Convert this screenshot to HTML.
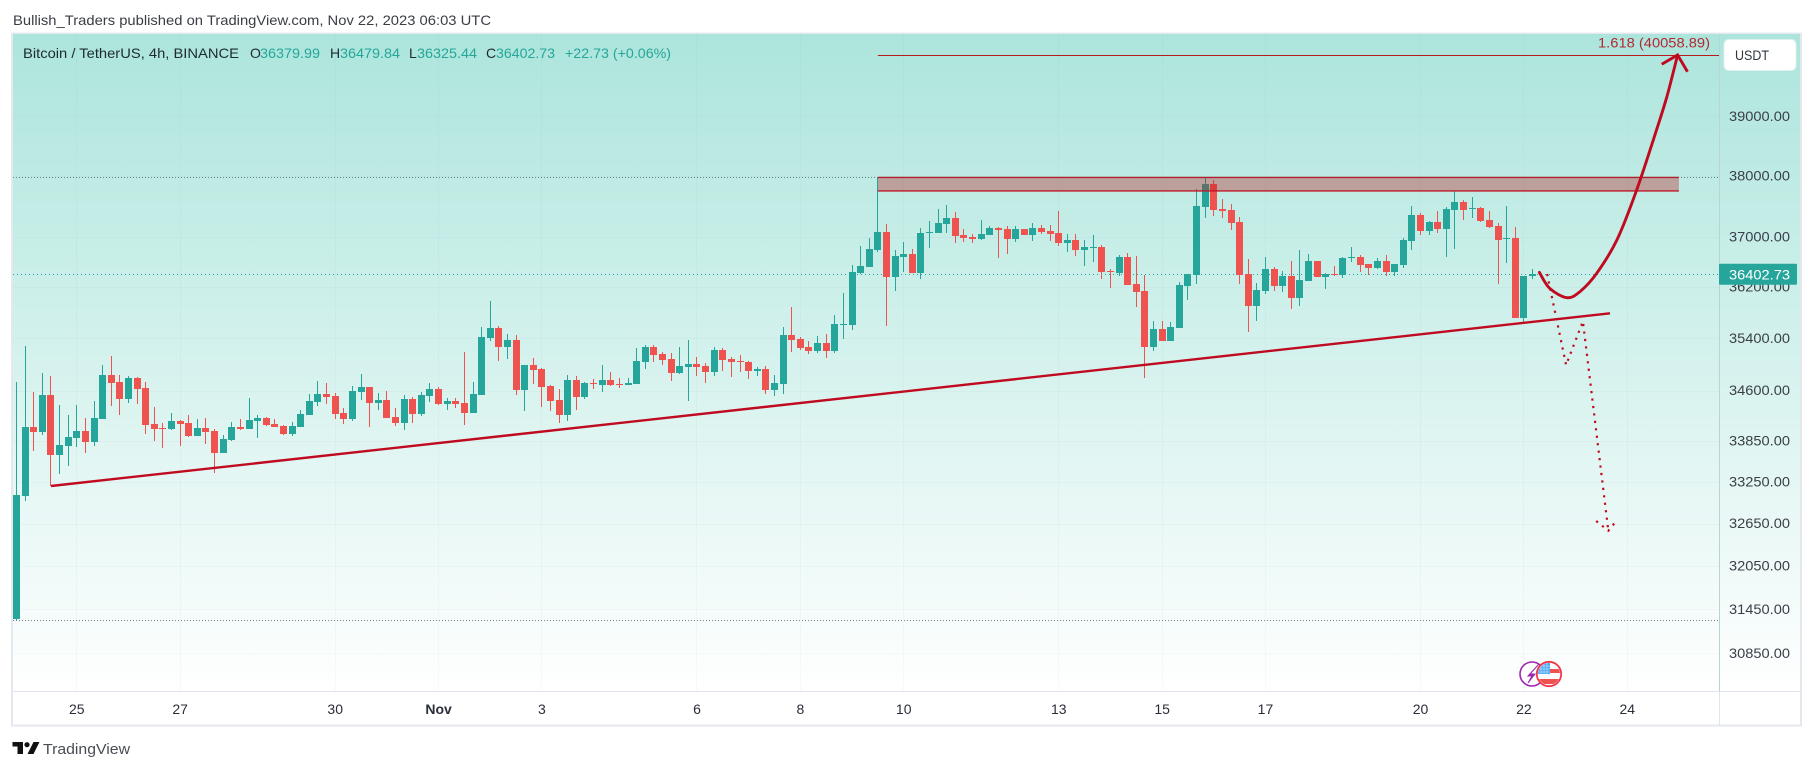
<!DOCTYPE html>
<html lang="en">
<head>
<meta charset="utf-8">
<title>BTC/USDT 4h chart</title>
<style>
  html,body{margin:0;padding:0;background:#fff;width:1814px;height:770px;overflow:hidden}
  svg{display:block;font-family:"Liberation Sans",sans-serif}
</style>
</head>
<body>
<svg id="chart" width="1814" height="770" viewBox="0 0 1814 770" xmlns="http://www.w3.org/2000/svg">
  <defs>
    <linearGradient id="paneGrad" x1="0" y1="0" x2="0" y2="1">
      <stop offset="0" stop-color="#ace5dc"/>
      <stop offset="1" stop-color="#ffffff"/>
    </linearGradient>
    <clipPath id="paneClip"><rect x="13" y="34" width="1706" height="657"/></clipPath>
    <clipPath id="flagClip"><circle cx="1549" cy="674" r="11"/></clipPath>
  </defs>

  <text x="13" y="25" font-size="14" fill="#3a3d45" textLength="478" lengthAdjust="spacingAndGlyphs">Bullish_Traders published on TradingView.com, Nov 22, 2023 06:03 UTC</text>

  <rect x="12" y="33.5" width="1789" height="692" fill="#ffffff" stroke="#e6e8ef" stroke-width="2"/>
  <rect x="13" y="34" width="1787" height="657" fill="url(#paneGrad)"/>

  <g id="grid"></g>
  <g id="refLines" clip-path="url(#paneClip)"></g>
  <g id="candles" clip-path="url(#paneClip)" shape-rendering="crispEdges"></g>
  <g id="drawings"></g>

  <line x1="1719.5" y1="34" x2="1719.5" y2="726" stroke="#b9d4d1" stroke-width="1"/>
  <line x1="13" y1="691.5" x2="1800" y2="691.5" stroke="#e0e3eb" stroke-width="1"/>
  <line x1="1719.5" y1="692" x2="1719.5" y2="726" stroke="#e0e3eb" stroke-width="1"/>

  <g id="priceAxis"></g>
  <g id="timeAxis"></g>

  <g id="lastPrice"></g>

  <g font-size="14">
    <text x="23" y="58" fill="#1f2a30" textLength="216" lengthAdjust="spacingAndGlyphs">Bitcoin / TetherUS, 4h, BINANCE</text>
    <text x="250" y="58" fill="#1f2a30">O</text>
    <text x="260" y="58" fill="#26a69a" textLength="60" lengthAdjust="spacingAndGlyphs">36379.99</text>
    <text x="330" y="58" fill="#1f2a30">H</text>
    <text x="340" y="58" fill="#26a69a" textLength="60" lengthAdjust="spacingAndGlyphs">36479.84</text>
    <text x="409" y="58" fill="#1f2a30">L</text>
    <text x="417" y="58" fill="#26a69a" textLength="60" lengthAdjust="spacingAndGlyphs">36325.44</text>
    <text x="486" y="58" fill="#1f2a30">C</text>
    <text x="496" y="58" fill="#26a69a" textLength="59" lengthAdjust="spacingAndGlyphs">36402.73</text>
    <text x="565" y="58" fill="#26a69a" textLength="106" lengthAdjust="spacingAndGlyphs">+22.73 (+0.06%)</text>
  </g>

  <g>
    <rect x="1724" y="39.5" width="72" height="31" rx="5" fill="#ffffff" stroke="#e3f1ee"/>
    <text x="1735" y="60" font-size="14" fill="#2f3640" textLength="34" lengthAdjust="spacingAndGlyphs">USDT</text>
  </g>

  <g>
    <circle cx="1532" cy="674" r="12" fill="#ffffff" stroke="#9c27b0" stroke-width="1.6"/>
    <path d="M1539 664 L1530 674 L1535 674 L1528 683 L1532 676 L1528 676 Z" fill="#9c27b0" stroke="#9c27b0" stroke-width="1"/>
    <circle cx="1549" cy="674" r="12.2" fill="#ffffff" stroke="#f23645" stroke-width="1.8"/>
    <g clip-path="url(#flagClip)">
      <rect x="1538" y="669" width="23" height="4" fill="#ef5350"/>
      <rect x="1538" y="679" width="23" height="5" fill="#ef5350"/>
      <rect x="1538" y="663" width="12" height="11" fill="#42a5f5"/>
      <path d="M1541 663V674M1544 663V674M1547 663V674M1538 666H1550M1538 669H1550M1538 672H1550" stroke="#bbdefb" stroke-width=".7"/>
    </g>
  </g>

  <g>
    <path d="M12.5 742H23V754H17.5V746.5H12.5Z" fill="#111"/>
    <circle cx="27" cy="744.7" r="2.6" fill="#111"/>
    <path d="M33.5 742H39.5L33.5 754H27.5Z" fill="#111"/>
    <text x="43" y="754" font-size="15" fill="#4a4d55" textLength="87" lengthAdjust="spacingAndGlyphs">TradingView</text>
  </g>
</svg>

<script>
/* ---------- data: 4h OHLC, one entry per bar ---------- */
const opens = [31318,33045,34056,33981,34535,33641,33774,33893,33996,33833,
34175,34837,34731,34474,34791,34640,34100,34041,34026,34145,
34115,33922,34041,33996,33671,33863,34056,34026,34145,34190,
34100,34071,33952,34056,34235,34429,34550,34519,34264,34175,
34580,34655,34414,34459,34205,34115,34474,34250,34519,34625,
34399,34444,34414,34264,34535,35405,35559,35266,35374,34610,
34990,34928,34670,34459,34235,34761,34504,34716,34686,34761,
34701,34686,34701,35036,35266,35158,35081,34867,34959,35005,
34974,34883,35220,35081,35051,35036,34898,34928,34610,34701,
35451,35389,35266,35205,35328,35205,35606,35606,36423,36519,
36791,37082,36360,36679,36727,36423,37065,37065,37211,37309,
37033,37001,36968,37033,37146,37130,36968,37130,37033,37146,
37098,37065,36904,36952,36791,36823,36839,36455,36423,36679,
36249,36138,35266,35544,35359,35559,36217,36391,37488,37867,
37455,37439,37244,36407,35903,36138,36487,36217,36375,36028,
36296,36615,36359,36407,36391,36663,36679,36567,36503,36615,
36439,36551,36936,37358,37098,37244,37130,37439,37570,37455,
37472,37276,37179,36968,36984,35715,36379.99];

const highs = [34731,35282,34580,34867,34822,34384,34235,34384,34190,34444,
34990,35128,34837,34822,34807,34731,34354,34115,34264,34160,
34235,34175,34190,34026,33937,34130,34175,34489,34235,34205,
34175,34086,34130,34309,34550,34746,34716,34565,34339,34670,
34852,34655,34565,34595,34339,34535,34504,34580,34716,34655,
34489,34489,35189,34731,35575,35981,35590,35466,35451,34990,
35097,34944,34686,34625,34837,34822,34731,34776,34990,34883,
34791,34791,35251,35297,35297,35189,35174,35266,35374,35112,
35020,35266,35251,35112,35143,35051,34959,34974,34837,35575,
35887,35420,35359,35436,35466,35762,36107,36551,36855,36984,
37965,37211,36791,36920,36807,37146,37260,37455,37521,37406,
37130,37049,37276,37179,37163,37179,37179,37130,37227,37195,
37195,37423,37049,37049,36952,37033,36872,36487,36711,36743,
36695,36391,35668,35668,35653,36280,36407,37784,37965,37932,
37620,37537,37325,36647,36265,36679,36519,36455,36615,36791,
36727,36615,36423,36535,36679,36839,36711,36567,36663,36711,
36567,36984,37505,37390,37260,37423,37488,37752,37603,37653,
37488,37423,37227,37505,37163,36375,36479.84];

const lows = [31304,32977,33700,33937,33190,33364,33480,33760,33671,33774,
34175,34369,34235,34414,34399,33952,33848,33745,34011,33774,
33907,33922,33804,33379,33671,33848,34011,34026,33893,34071,
34056,33937,33922,34056,34235,34369,34399,34175,34100,34145,
34459,34056,34309,34190,34071,34011,34115,34220,34429,34384,
34309,34339,34086,34264,34535,35359,35051,35081,34535,34294,
34701,34354,34294,34115,34145,34309,34474,34625,34580,34670,
34640,34686,34701,34928,35036,34990,34746,34852,34444,34822,
34716,34822,34898,34807,34883,34776,34822,34550,34519,34550,
35189,35220,35158,35174,35097,35174,35389,35528,36407,36519,
36759,35590,36138,36439,36423,36328,36823,37065,37065,36904,
36920,36904,36952,37033,36663,36727,36920,37033,36936,37049,
36936,36855,36759,36695,36535,36599,36328,36186,36375,36233,
35887,34791,35205,35359,35359,35559,35997,36249,37309,37341,
37309,37114,36249,35497,35668,36091,36138,36122,35856,35903,
36296,36359,36170,36375,36344,36599,36439,36391,36487,36375,
36375,36503,36791,37033,37033,37065,36679,36807,37276,37309,
37244,37146,36249,36583,35715,35622,36325.44];

const closes = [33059,34056,33981,34535,33641,33789,33907,33996,33833,34190,
34837,34716,34474,34791,34625,34086,34026,34026,34145,34100,
33922,34041,33981,33671,33878,34056,34026,34160,34190,34086,
34056,33952,34071,34250,34444,34550,34504,34250,34175,34595,
34655,34414,34459,34190,34115,34474,34250,34535,34625,34399,
34444,34399,34264,34550,35420,35559,35266,35374,34610,34990,
34913,34655,34444,34235,34761,34504,34716,34701,34761,34686,
34686,34716,35051,35266,35143,35066,34867,34974,35005,34959,
34883,35220,35066,35036,35036,34898,34928,34610,34716,35451,
35374,35251,35205,35328,35205,35622,35622,36439,36535,36807,
37082,36359,36695,36727,36423,37065,37082,37227,37309,37017,
36984,36968,37049,37146,37114,36968,37130,37033,37146,37082,
37049,36904,36952,36791,36839,36839,36439,36439,36679,36233,
36122,35266,35544,35359,35575,36233,36407,37505,37867,37439,
37423,37227,36391,35903,36154,36487,36217,36375,36028,36312,
36615,36359,36407,36391,36663,36679,36551,36503,36615,36439,
36567,36952,37358,37098,37244,37130,37455,37570,37439,37472,
37260,37163,36952,36984,35715,36375,36402.73];

/* ---------- axis tick data ---------- */
const priceTicks = [39000,38000,37000,36200,35400,34600,33850,33250,32650,32050,31450,30850];
const priceTickLabels = ["39000.00","38000.00","37000.00","36200.00","35400.00","34600.00","33850.00","33250.00","32650.00","32050.00","31450.00","30850.00"];
const timeTickBars = [7,19,37,49,61,79,91,103,121,133,145,163,175,187];
const timeTickLabels = ["25","27","30","Nov","3","6","8","10","13","15","17","20","22","24"];

/* ---------- reference prices ---------- */
const lastPrice = 36402.73;
const lastPriceLabel = "36402.73";
const visibleHigh = 37982;
const visibleLow = 31304;

/* ---------- drawing anchors, in [bar, price] ---------- */
const fibBar = 100;
const fibPrice = 40058.89;
const fibLabel = "1.618 (40058.89)";
const zoneBars = [100,193];
const zonePrices = [37975,37752];
const trendBars = [4,185];
const trendPrices = [33190,35788];
const curveBars = [176.8,178,180,181.5,183.45,185.8,188.1,190.4,191.6,192.85];
const curvePrices = [36433,36181,36033,36128,36418,36952,37768,38769,39337,40058.89];
const arrowBars = [191,192.85,194];
const arrowPrices = [39898,40058.89,39769];
const dottedBars = [177.7,179.9,181.85,184.8];
const dottedPrices = [36407,34990,35663,32548];
const dottedHeadBars = [183.4,184.8,185.8];
const dottedHeadPrices = [32686,32548,32696];

/* ---------- axis functions ---------- */
const X0 = 16.5, BAR_STEP = 8.6136;
const Y_REF = 274.3, Y_K = 2291, P_REF = 36402.73;
function xScale(bar){ return X0 + BAR_STEP * bar; }
function yScale(price){ return Y_REF - Y_K * Math.log(price / P_REF); }

const SVGNS = "http://www.w3.org/2000/svg";
function mk(tag, parent, attrs, text){
  const n = document.createElementNS(SVGNS, tag);
  for (const k in attrs) n.setAttribute(k, attrs[k]);
  if (text !== undefined) n.textContent = text;
  parent.appendChild(n);
  return n;
}
function polyD(bars, prices){
  return bars.map((b,i)=>(i?"L":"M")+xScale(b).toFixed(1)+" "+yScale(prices[i]).toFixed(1)).join(" ");
}
function smoothD(bars, prices){
  const p = bars.map((b,i)=>[xScale(b), yScale(prices[i])]);
  let d = "M"+p[0][0].toFixed(1)+" "+p[0][1].toFixed(1);
  for (let i=0;i<p.length-1;i++){
    const a=p[Math.max(i-1,0)], b=p[i], c=p[i+1], e=p[Math.min(i+2,p.length-1)];
    const c1=[b[0]+(c[0]-a[0])/6, b[1]+(c[1]-a[1])/6];
    const c2=[c[0]-(e[0]-b[0])/6, c[1]-(e[1]-b[1])/6];
    d+=" C"+c1[0].toFixed(1)+" "+c1[1].toFixed(1)+" "+c2[0].toFixed(1)+" "+c2[1].toFixed(1)+" "+c[0].toFixed(1)+" "+c[1].toFixed(1);
  }
  return d;
}

/* ---------- grid ---------- */
const gridG = document.getElementById("grid");
priceTicks.forEach(function(p){
  const y = Math.round(yScale(p)) + 0.5;
  const l = mk("line", gridG, {x1:13, x2:1719, y1:y, y2:y, stroke:"#6f8f9a", "stroke-opacity":"0.05"});
  
  
});
timeTickBars.forEach(function(b){
  const x = Math.floor(xScale(b)) + 0.5;
  const l = mk("line", gridG, {x1:x, x2:x, y1:34, y2:691, stroke:"#6f8f9a", "stroke-opacity":"0.05"});
  
  
});

/* ---------- reference dotted lines ---------- */
const refG = document.getElementById("refLines");
const hiY = Math.round(yScale(visibleHigh)) + 0.5;
const hiLine = mk("line", refG, {x1:13, x2:1719, y1:hiY, y2:hiY, stroke:"#3f5f5c", "stroke-opacity":"0.75", "stroke-width":1, "stroke-dasharray":"1 2"});


const loY = Math.round(yScale(visibleLow)) + 0.5;
const loLine = mk("line", refG, {x1:13, x2:1719, y1:loY, y2:loY, stroke:"#4a5a5a", "stroke-opacity":"0.75", "stroke-width":1, "stroke-dasharray":"1 2"});


const lastY = Math.round(yScale(lastPrice)) + 0.5;
const lastLine = mk("line", refG, {x1:13, x2:1719, y1:lastY, y2:lastY, stroke:"#26a69a", "stroke-width":1, "stroke-dasharray":"1 3"});



/* ---------- candles ---------- */
const candleG = document.getElementById("candles");
opens.forEach(function(o, i){
  const c = closes[i], h = highs[i], l = lows[i];
  const col = c >= o ? "#26a69a" : "#ef5350";
  const px = Math.floor(xScale(i));
  const yH = Math.round(yScale(h)), yL = Math.round(yScale(l));
  const yT = Math.round(yScale(Math.max(o,c))), yB = Math.round(yScale(Math.min(o,c)));
  const wick = mk("rect", candleG, {x:px, y:yH, width:1, height:Math.max(1,yL-yH), fill:col});
  
  
  const body = mk("rect", candleG, {x:px-3, y:yT, width:7, height:Math.max(1,yB-yT), fill:col});
  
  
});

/* ---------- drawings ---------- */
const drawG = document.getElementById("drawings");
const RED = "#c00a20";

const zx1 = xScale(zoneBars[0]), zx2 = xScale(zoneBars[1]);
const zy1 = yScale(zonePrices[0]), zy2 = yScale(zonePrices[1]);
const zone = mk("rect", drawG, {x:zx1, y:zy1, width:zx2-zx1, height:zy2-zy1, fill:"#b71c1c", "fill-opacity":"0.36"});


const zoneTop = mk("line", drawG, {x1:zx1, x2:zx2, y1:zy1, y2:zy1, stroke:"#b3202c", "stroke-width":1.4});


const zoneBottom = mk("line", drawG, {x1:zx1, x2:zx2, y1:zy2, y2:zy2, stroke:"#c0182a", "stroke-width":1.4});



const fibY = Math.round(yScale(fibPrice)) + 0.5;
const fibLine = mk("line", drawG, {x1:xScale(fibBar), x2:1719, y1:fibY, y2:fibY, stroke:"#b71c1c", "stroke-width":1});


const fibText = mk("text", drawG, {x:1598, y:fibY-8, "font-size":14, fill:"#b22833", textLength:112, lengthAdjust:"spacingAndGlyphs"}, fibLabel);



const trend = mk("path", drawG, {d:polyD(trendBars, trendPrices), fill:"none", stroke:RED, "stroke-width":2.4});



const dotted = mk("path", drawG, {d:polyD(dottedBars, dottedPrices), fill:"none", stroke:RED, "stroke-width":2.2, "stroke-dasharray":"2.2 5.3"});


const dottedHead = mk("path", drawG, {d:polyD(dottedHeadBars, dottedHeadPrices), fill:"none", stroke:RED, "stroke-width":2.2, "stroke-dasharray":"2.2 5.3"});



const curve = mk("path", drawG, {d:smoothD(curveBars, curvePrices), fill:"none", stroke:RED, "stroke-width":2.9, "stroke-linecap":"round"});


const arrow = mk("path", drawG, {d:polyD(arrowBars, arrowPrices), fill:"none", stroke:RED, "stroke-width":2.9});



/* ---------- price axis ---------- */
const pa = document.getElementById("priceAxis");
priceTicks.forEach(function(p, i){
  const t = mk("text", pa, {x:1729, y:yScale(p)+4.5, "font-size":14, fill:"#3a3f47", textLength:61, lengthAdjust:"spacingAndGlyphs"}, priceTickLabels[i]);
  
  
});

/* ---------- time axis ---------- */
const ta = document.getElementById("timeAxis");
timeTickBars.forEach(function(b, i){
  const isMonth = timeTickLabels[i] === "Nov";
  const t = mk("text", ta, {x:xScale(b), y:714, "font-size":14, fill:"#2a2e39", "text-anchor":"middle", "font-weight":isMonth?"bold":"normal"}, timeTickLabels[i]);
  
  
});

/* ---------- last price badge ---------- */
const lp = document.getElementById("lastPrice");
const ly = yScale(lastPrice);
const badge = mk("rect", lp, {x:1719, y:ly-10.5, width:78, height:21, fill:"#26a69a", rx:1});


const badgeText = mk("text", lp, {x:1729, y:ly+5, "font-size":14, fill:"#ffffff", textLength:61, lengthAdjust:"spacingAndGlyphs"}, lastPriceLabel);


</script>
</body>
</html>
